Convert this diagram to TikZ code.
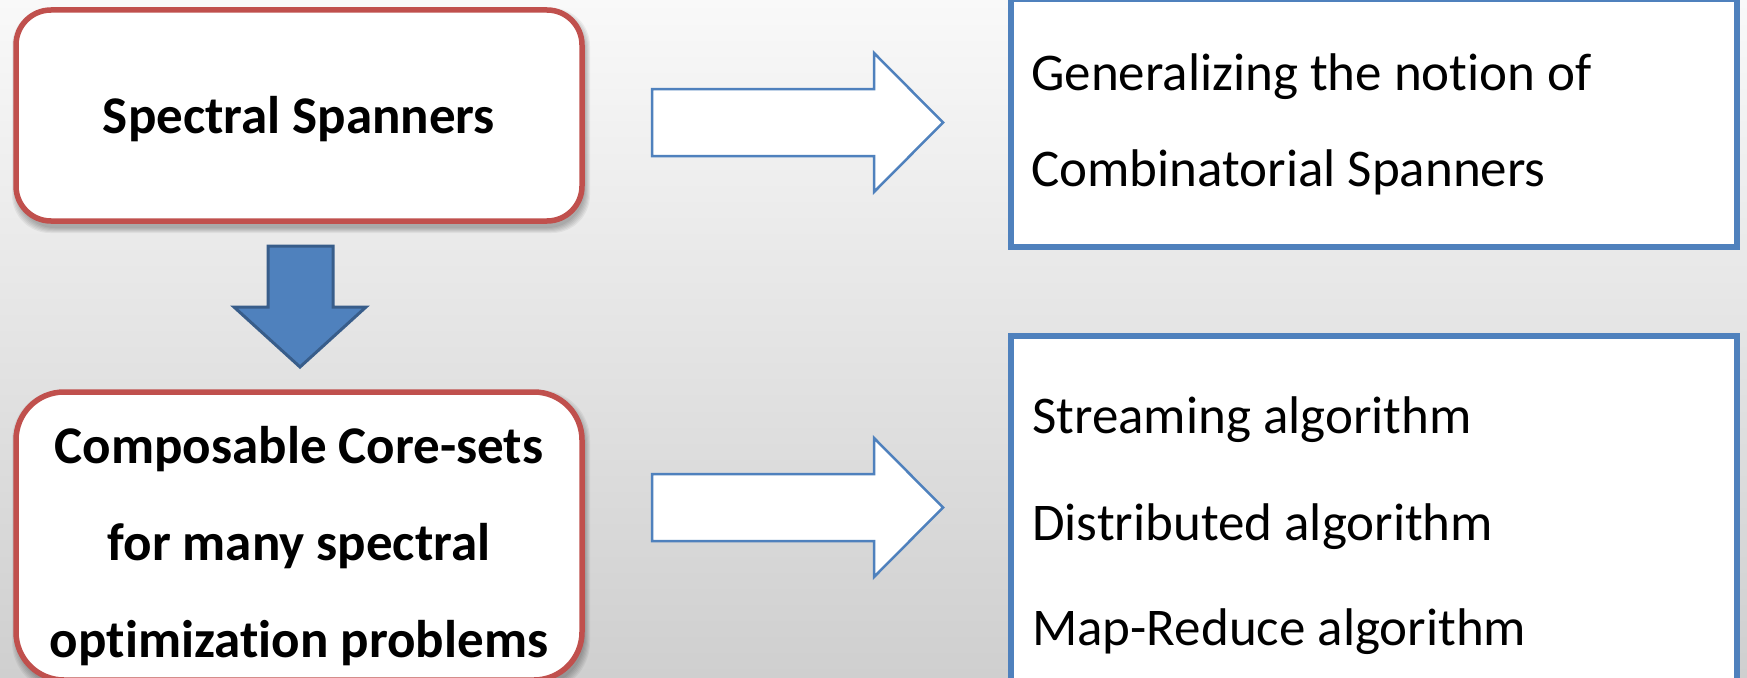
\documentclass[tikz,border=0pt]{standalone}
\usepackage{fontspec}
\setmainfont{Carlito}[Ligatures={NoCommon,NoDiscretionary,NoContextual}]
\definecolor{bgtop}{HTML}{F9F9F9}
\definecolor{bgbot}{HTML}{CFCFCF}
\definecolor{redline}{HTML}{C0504D}
\definecolor{blueline}{HTML}{4F81BD}
\definecolor{bluedark}{HTML}{385D8A}
\begin{document}
\begin{tikzpicture}[x=1pt,y=-1pt,
  redbox/.style={draw=redline, line width=5.5pt, fill=white, rounded corners=#1, inner sep=0pt},
  bluebox/.style={draw=blueline, line width=6pt, fill=white, inner sep=0pt},
  boldtxt/.style={font=\fontsize{53}{60}\selectfont\bfseries, inner sep=0pt, anchor=base},
  plaintxt/.style={font=\fontsize{53}{60}\selectfont, inner sep=0pt, anchor=base west},
  outarrow/.style={draw=blueline, line width=2.5pt, fill=white, line join=miter},
  downarrow/.style={draw=bluedark, line width=3pt, fill=blueline, line join=miter},
  shadowlayer/.style={fill=black, opacity=0.05}]
\useasboundingbox (0,0) rectangle (1747,677);
\clip (0,0) rectangle (1747,677);
\fill[top color=bgtop, bottom color=bgbot] (0,0) rectangle (1747,677);

% soft shadows of the rounded boxes
\foreach \i in {1,...,6} {
  \fill[shadowlayer, rounded corners=38pt] (18-\i,14-\i) rectangle (584+\i,227+\i);
  \fill[shadowlayer, rounded corners=50pt] (18-\i,396-\i) rectangle (584+\i,686+\i);
}

% boxes
\node[redbox=35pt, minimum width=566pt, minimum height=211pt] (ss) at (299,115.5) {};
\node[redbox=48pt, minimum width=566pt, minimum height=288pt] (cc) at (299,536) {};
\node[bluebox, minimum width=726pt, minimum height=248pt] (gen) at (1374,123) {};
\node[bluebox, minimum width=726pt, minimum height=364pt] (alg) at (1374,518) {};

% block arrows
\draw[downarrow] (268,246) -- (333,246) -- (333,307) -- (366,307) -- (300,367)
  -- (234,307) -- (268,307) -- cycle;
\draw[outarrow] (652,89) -- (874,89) -- (874,53) -- (943,122.5) -- (874,192)
  -- (874,156) -- (652,156) -- cycle;
\draw[outarrow] (652,474) -- (874,474) -- (874,438) -- (943,507.5) -- (874,577)
  -- (874,541) -- (652,541) -- cycle;

% texts
\node[boldtxt] (ss1) at (299,133) {Spectral Spanners};
\node[boldtxt] (cc1) at (299,463) {Composable Core-sets};
\node[boldtxt] (cc2) at (299,560) {for many spectral};
\node[boldtxt] (cc3) at (299,657) {opt\kern0pt imization problems};
\node[plaintxt] (gen1) at (1031,90) {Generalizing the notion of};
\node[plaintxt] (gen2) at (1031,186) {Combinatorial Spanners};
\node[plaintxt] (alg1) at (1032,433) {Streaming algorithm};
\node[plaintxt] (alg2) at (1032,540) {Distributed algorithm};
\node[plaintxt] (alg3) at (1032,645) {Map-Reduce algorithm};
\end{tikzpicture}
\end{document}
